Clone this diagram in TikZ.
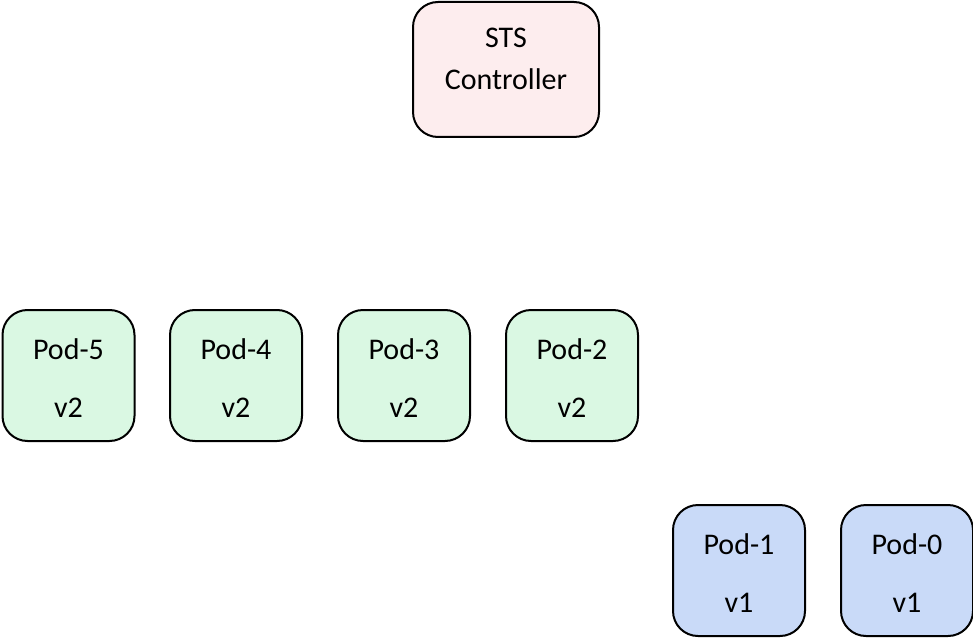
\documentclass[tikz,border=0pt]{standalone}
\usepackage{fontspec}
\setmainfont{Carlito}
\definecolor{stspink}{HTML}{FDEDEE}
\definecolor{podgreen}{HTML}{DAF8E3}
\definecolor{podblue}{HTML}{C9DAF8}
\begin{document}
\begin{tikzpicture}[x=1pt,y=-1pt,
  box/.style={draw=black,line width=2pt,rounded corners=25pt,inner sep=0pt},
  podbox/.style={box,minimum width=132pt,minimum height=131pt},
  txt/.style={anchor=base,inner sep=0pt,font=\fontsize{30}{36}\selectfont}]
\useasboundingbox (0,0) rectangle (973,639);
\node[box,fill=stspink,minimum width=186pt,minimum height=135pt] (sts) at (506,69.5) {};
\node[txt] (ststxt) at (506,48) {STS};
\node[txt] (ctrltxt) at (506,90) {Controller};
\foreach \name/\cx/\cy/\col/\lab/\ver in {p5/68.5/375.5/podgreen/Pod-5/v2, p4/236/375.5/podgreen/Pod-4/v2, p3/404/375.5/podgreen/Pod-3/v2, p2/572/375.5/podgreen/Pod-2/v2, p1/739/570.5/podblue/Pod-1/v1, p0/907/570.5/podblue/Pod-0/v1}{
  \node[podbox,fill=\col] (\name) at (\cx,\cy) {};
  \node[txt] (\name name) at (\cx,\cy-16.5) {\lab};
  \node[txt] (\name ver) at (\cx,\cy+42) {\ver};
}
\end{tikzpicture}
\end{document}
